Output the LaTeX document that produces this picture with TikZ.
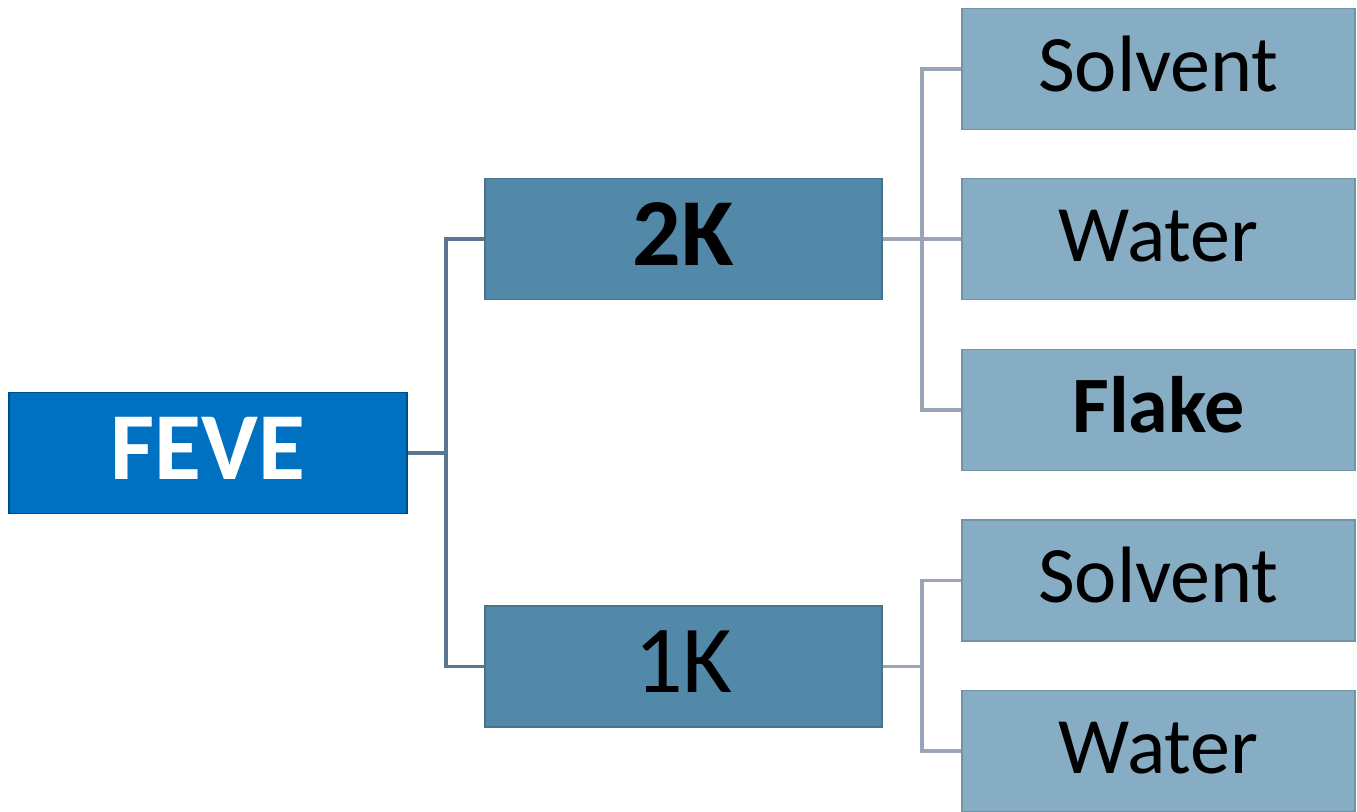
\documentclass[tikz,border=0pt]{standalone}
\usepackage{fontspec}
\setmainfont{Carlito}
\definecolor{feveblue}{HTML}{0070C0}
\definecolor{midblue}{HTML}{5289A8}
\definecolor{lightblue}{HTML}{86ADC3}
\definecolor{lineone}{HTML}{5A7692}
\definecolor{linetwo}{HTML}{9AA6B8}
\tikzset{
  boxbase/.style={rectangle, inner sep=0pt, line width=0.8pt, minimum height=121*0.75pt},
  rootbox/.style={boxbase, fill=feveblue, draw=feveblue!70!black, minimum width=398*0.75pt,
    text=white, font=\fontsize{72}{80}\selectfont\bfseries, text height=46pt, text depth=6.5pt},
  midbox/.style={boxbase, fill=midblue, draw=midblue!85!black, minimum width=397*0.75pt,
    text=black, font=\fontsize{72}{80}\selectfont, text height=46pt, text depth=6.5pt},
  leafbox/.style={boxbase, fill=lightblue, draw=lightblue!85!black, minimum width=393*0.75pt,
    text=black, font=\fontsize{60}{68}\selectfont, text height=38.5pt, text depth=5.4pt},
  connone/.style={draw=lineone, line width=2.4pt},
  conntwo/.style={draw=linetwo, line width=2.4pt},
}
\begin{document}
\begin{tikzpicture}[x=0.75pt,y=-0.75pt]
\useasboundingbox (0,0) rectangle (1357,812);
\node[rootbox] (feve) at (208,453) {FEVE};
\node[midbox] (k2) at (683.5,239) {\bfseries 2K};
\node[midbox] (k1) at (683.5,666.5) {1K};
\node[leafbox] (s1) at (1158.5,69) {Solvent};
\node[leafbox] (w1) at (1158.5,239) {Water};
\node[leafbox] (f1) at (1158.5,410) {\bfseries Flake};
\node[leafbox] (s2) at (1158.5,580.5) {Solvent};
\node[leafbox] (w2) at (1158.5,751) {Water};
\coordinate (j1) at (446,453);
\coordinate (j2) at (922,239);
\coordinate (j3) at (922,666.5);
\draw[connone] (feve.east) -- (j1) |- (k2.west);
\draw[connone] (j1) |- (k1.west);
\draw[conntwo] (k2.east) -- (w1.west);
\draw[conntwo] (j2) |- (s1.west);
\draw[conntwo] (j2) |- (f1.west);
\draw[conntwo] (k1.east) -- (j3) |- (s2.west);
\draw[conntwo] (j3) |- (w2.west);
\end{tikzpicture}
\end{document}
